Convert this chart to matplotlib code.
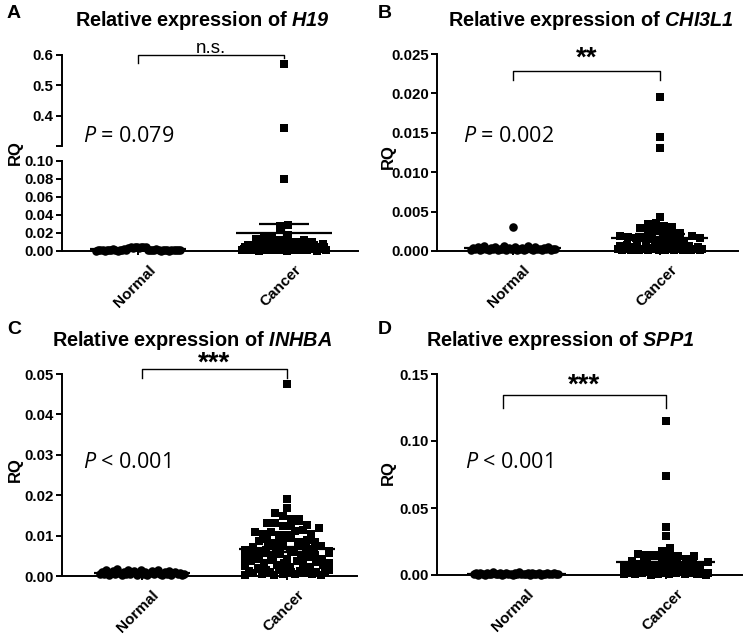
import numpy as np
import matplotlib
matplotlib.use("Agg")
import matplotlib.pyplot as plt  # noqa: E402
import matplotlib.transforms as mtransforms  # noqa: E402

plt.rcParams["font.family"] = ["Liberation Sans", "DejaVu Sans"]
plt.rcParams["mathtext.fontset"] = "custom"
plt.rcParams["mathtext.it"] = "Open Sans:italic"
plt.rcParams["mathtext.rm"] = "Open Sans"
plt.rcParams["mathtext.bf"] = "Liberation Sans:bold"
plt.rcParams["mathtext.bfit"] = "Liberation Sans:bold:italic"

# ---- data ----
groups = ["Normal", "Cancer"]
genes = ["H19", "CHI3L1", "INHBA", "SPP1"]
p_texts = ["$P$ = 0.079", "$P$ = 0.002", "$P$ < 0.001", "$P$ < 0.001"]
sig_marks = ["n.s.", "**", "***", "***"]

h19_normal = [0.0005, 0.001, 0.0008, 0.0012, 0.0003, 0.0015, 0.0007, 0.0009, 0.002, 0.0011,
              0.0004, 0.0013, 0.0006, 0.0018, 0.001, 0.0035, 0.004, 0.0038, 0.0042, 0.0045,
              0.0036, 0.0041, 0.0039, 0.005, 0.0008, 0.0014, 0.0006, 0.0009, 0.0017, 0.0012,
              0.0005, 0.0011, 0.0007, 0.0016, 0.0003, 0.001, 0.0013, 0.0008, 0.0006, 0.0009]
h19_cancer = [0.57, 0.36, 0.08,
              0.028, 0.029, 0.025, 0.018, 0.0135, 0.015, 0.014, 0.0125, 0.011, 0.0105, 0.012, 0.0095,
              0.0006, 0.0021, 0.0045, 0.0012, 0.0068, 0.0031, 0.0009, 0.0052, 0.0017, 0.0074,
              0.0028, 0.0004, 0.0039, 0.0061, 0.0015, 0.0083, 0.0024, 0.0011, 0.0047, 0.0035,
              0.0007, 0.0057, 0.0019, 0.0066, 0.0029, 0.0013, 0.0042, 0.0078, 0.0022, 0.0005,
              0.0049, 0.0033, 0.0016, 0.0062, 0.0026, 0.0008, 0.0054, 0.0037, 0.0014, 0.0071,
              0.0025, 0.0043, 0.0010, 0.0058, 0.0032, 0.0018, 0.0065, 0.0027, 0.0003, 0.0048,
              0.0036, 0.0020, 0.0081, 0.0040, 0.0012]

chi3l1_normal = [0.0001, 0.0004, 0.0002, 0.0005, 0.0001, 0.0003, 0.0006, 0.0002, 0.0001, 0.0004,
                 0.0002, 0.0005, 0.0001, 0.0003, 0.0002, 0.0006, 0.0001, 0.0004, 0.0002, 0.0003,
                 0.003, 0.0005, 0.0001, 0.0002, 0.0004, 0.0001, 0.0003, 0.0006, 0.0002, 0.0001,
                 0.0005, 0.0002, 0.0003, 0.0001, 0.0004, 0.0002, 0.0005, 0.0001, 0.0003, 0.0002]
chi3l1_cancer = [0.0195, 0.0145, 0.0131,
                 0.0029, 0.0025, 0.0043, 0.0034, 0.0036, 0.0027, 0.0032, 0.0031,
                 0.0022, 0.0021, 0.0023,
                 0.0019, 0.0018, 0.0017, 0.0016, 0.0015, 0.0014, 0.0013, 0.0012, 0.0011, 0.0019, 0.0016,
                 0.0002, 0.0006, 0.0001, 0.0004, 0.0008, 0.0003, 0.0001, 0.0005, 0.0002, 0.0007,
                 0.0001, 0.0003, 0.0002, 0.0006, 0.0001, 0.0004, 0.0002, 0.0009, 0.0003, 0.0001,
                 0.0005, 0.0002, 0.0001, 0.0004, 0.0003, 0.0007, 0.0001, 0.0002, 0.0005, 0.0003,
                 0.0001, 0.0004, 0.0002, 0.0006, 0.0001, 0.0003, 0.0002, 0.0005, 0.0001, 0.0002]

inhba_normal = [0.0004, 0.0009, 0.0006, 0.0015, 0.0003, 0.0008, 0.0012, 0.0005, 0.0017, 0.0007,
                0.0002, 0.0010, 0.0006, 0.0014, 0.0004, 0.0009, 0.0013, 0.0003, 0.0008, 0.0016,
                0.0005, 0.0011, 0.0002, 0.0007, 0.0012, 0.0004, 0.0009, 0.0015, 0.0006, 0.0003,
                0.0010, 0.0005, 0.0013, 0.0002, 0.0008, 0.0011, 0.0004, 0.0007, 0.0003, 0.0006]
inhba_cancer = [0.0475, 0.019, 0.0168, 0.0157, 0.0148, 0.014, 0.0142,
                0.013, 0.0131, 0.0123, 0.0124, 0.0135, 0.0127,
                0.0108, 0.0105, 0.011, 0.0102, 0.0101, 0.0112, 0.0115, 0.0104, 0.0118,
                0.0086, 0.0092, 0.0081, 0.0088, 0.0095, 0.0083, 0.0090, 0.0085,
                0.0065, 0.0072, 0.0061, 0.0078, 0.0068, 0.0075, 0.0063, 0.0079, 0.0070, 0.0066, 0.0074, 0.0062,
                0.0045, 0.0052, 0.0041, 0.0058, 0.0048, 0.0055, 0.0043, 0.0059, 0.0050, 0.0046, 0.0053,
                0.0042, 0.0057,
                0.0025, 0.0036, 0.0021, 0.0031, 0.0039, 0.0027, 0.0033, 0.0023, 0.0038, 0.0029, 0.0022,
                0.0035, 0.0026, 0.0032,
                0.0003, 0.0012, 0.0007, 0.0018, 0.0005, 0.0015, 0.0009, 0.0002, 0.0014, 0.0006, 0.0017,
                0.0010, 0.0004, 0.0013, 0.0008, 0.0016, 0.0005, 0.0011, 0.0003, 0.0008, 0.0015]

spp1_normal = [0.0005, 0.0012, 0.0003, 0.0018, 0.0008, 0.0002, 0.0015, 0.0006, 0.0010, 0.0020,
               0.0004, 0.0009, 0.0014, 0.0002, 0.0007, 0.0017, 0.0005, 0.0011, 0.0003, 0.0013,
               0.0008, 0.0019, 0.0004, 0.0010, 0.0006, 0.0016, 0.0002, 0.0012, 0.0007, 0.0009,
               0.0015, 0.0003, 0.0011, 0.0005, 0.0018, 0.0008, 0.0004, 0.0013, 0.0006, 0.0010]
spp1_cancer = [0.115, 0.074, 0.036, 0.029, 0.018, 0.020,
               0.016, 0.015, 0.015, 0.013, 0.015, 0.014, 0.012, 0.014,
               0.0065, 0.0105, 0.008, 0.0115, 0.007, 0.0095, 0.0085, 0.011, 0.0075, 0.009, 0.0062, 0.010,
               0.0008, 0.0032, 0.0015, 0.0048, 0.0022, 0.0005, 0.0041, 0.0027, 0.0012, 0.0055,
               0.0019, 0.0036, 0.0003, 0.0045, 0.0024, 0.0010, 0.0052, 0.0030, 0.0017, 0.0039,
               0.0006, 0.0043, 0.0026, 0.0013, 0.0058, 0.0021, 0.0034, 0.0009, 0.0047, 0.0028,
               0.0016, 0.0040, 0.0004, 0.0025, 0.0007, 0.0011, 0.0002, 0.0014]

W, H = 750, 637


def fx(x):
    return x / W


def fy(y):
    return 1 - y / H


def box(left, top, right, bottom):
    return [fx(left), fy(bottom), (right - left) / W, (bottom - top) / H]


def style(ax, xaxis=True):
    for s in ("top", "right"):
        ax.spines[s].set_visible(False)
    for s in ("left", "bottom"):
        ax.spines[s].set_linewidth(1.4)
    ax.tick_params(axis="y", direction="out", length=4, width=1.4,
                   labelsize=10.8, pad=2)
    if xaxis:
        ax.set_xticks([1, 2])
        ax.set_xticklabels(groups, rotation=45, ha="right",
                           rotation_mode="anchor", fontweight="bold",
                           fontsize=11)
        ax.tick_params(axis="x", direction="out", length=3, width=1.4, pad=2)
        shift = mtransforms.ScaledTranslation(0.10, -0.05, fig.dpi_scale_trans)
        for lbl in ax.get_xticklabels():
            lbl.set_transform(lbl.get_transform() + shift)
    else:
        ax.spines["bottom"].set_visible(False)
        ax.set_xticks([])
    for lbl in ax.get_yticklabels():
        lbl.set_fontweight("bold")


def swarm_x(ax, xpos, vals, marker_px=8.0, span_px=84.0):
    vals = np.asarray(vals, float)
    x0, x1 = ax.get_xlim()
    y0, y1 = ax.get_ylim()
    ppx = ax.bbox.width / (x1 - x0)
    ppy = ax.bbox.height / (y1 - y0)
    rows = np.floor((vals - y0) * ppy / marker_px).astype(int)
    xs = np.full(len(vals), float(xpos))
    for r in np.unique(rows):
        idx = np.flatnonzero(rows == r)
        k = len(idx)
        if k > 1:
            step = min(marker_px, span_px / (k - 1))
            xs[idx] = xpos + (np.arange(k) - (k - 1) / 2) * step / ppx
    return xs


def dots(ax, xpos, vals, marker):
    vals = np.asarray(vals, float)
    y0, y1 = ax.get_ylim()
    vals = vals[(vals >= y0) & (vals <= y1)]
    xs = swarm_x(ax, xpos, vals)
    s = 40 if marker == "s" else 38
    ax.scatter(xs, vals, marker=marker, s=s, color="black", linewidths=0,
               clip_on=False, zorder=3)


def mean_sem(ax, xpos, vals):
    v = np.asarray(vals, float)
    m = v.mean()
    sem = v.std(ddof=1) / np.sqrt(len(v))
    kw = dict(color="black", lw=1.6, zorder=4, clip_on=False)
    ax.hlines(m, xpos - 0.33, xpos + 0.33, **kw)
    ax.vlines(xpos, m - sem, m + sem, **kw)
    ax.hlines([m - sem, m + sem], xpos - 0.17, xpos + 0.17, **kw)


def bracket(ax, x0, x1, ytop, yl, yr, mark, ymark, size, weight):
    ax.plot([x0, x0, x1, x1], [yl, ytop, ytop, yr], color="black", lw=1.0,
            clip_on=False)
    ax.text((x0 + x1) / 2, ymark, mark, ha="center", va="center",
            fontsize=size, fontweight=weight)


fig = plt.figure(figsize=(W / 100, H / 100), dpi=100)

# ---- A: H19, broken y axis ----
ax_up = fig.add_axes(box(62, 55, 358, 146))
ax_lo = fig.add_axes(box(62, 161, 358, 251))
for ax in (ax_up, ax_lo):
    ax.set_xlim(0.479, 2.507)
ax_up.set_ylim(0.3, 0.6)
ax_up.set_yticks([0.3, 0.4, 0.5, 0.6])
ax_up.set_yticklabels(["", "0.4", "0.5", "0.6"])
ax_lo.set_ylim(0, 0.1)
ax_lo.set_yticks(np.arange(0, 0.101, 0.02))
ax_lo.set_yticklabels([f"{t:.2f}" for t in np.arange(0, 0.101, 0.02)])
style(ax_up, xaxis=False)
style(ax_lo)
for ax in (ax_up, ax_lo):
    dots(ax, 1, h19_normal, "o")
    dots(ax, 2, h19_cancer, "s")
mean_sem(ax_lo, 1, h19_normal)
mean_sem(ax_lo, 2, h19_cancer)
bracket(ax_up, 1, 2, 0.6, 0.575, 0.59, sig_marks[0], 0.622, 13.5, "normal")

# ---- B: CHI3L1 ----
ax_b = fig.add_axes(box(437, 54, 738, 251))
ax_b.set_xlim(0.483, 2.531)
ax_b.set_ylim(0, 0.025)
ax_b.set_yticks(np.arange(0, 0.0251, 0.005))
ax_b.set_yticklabels([f"{t:.3f}" for t in np.arange(0, 0.0251, 0.005)])
style(ax_b)
dots(ax_b, 1, chi3l1_normal, "o")
dots(ax_b, 2, chi3l1_cancer, "s")
mean_sem(ax_b, 1, chi3l1_normal)
mean_sem(ax_b, 2, chi3l1_cancer)
bracket(ax_b, 1, 2, 0.0228, 0.0217, 0.0217, sig_marks[1], 0.0244, 20, "bold")

# ---- C: INHBA ----
ax_c = fig.add_axes(box(62, 374, 357, 576))
ax_c.set_xlim(0.448, 2.483)
ax_c.set_ylim(0, 0.05)
ax_c.set_yticks(np.arange(0, 0.051, 0.01))
ax_c.set_yticklabels([f"{t:.2f}" for t in np.arange(0, 0.051, 0.01)])
style(ax_c)
dots(ax_c, 1, inhba_normal, "o")
dots(ax_c, 2, inhba_cancer, "s")
mean_sem(ax_c, 1, inhba_normal)
mean_sem(ax_c, 2, inhba_cancer)
bracket(ax_c, 1, 2, 0.0512, 0.049, 0.049, sig_marks[2], 0.0525, 20, "bold")

# ---- D: SPP1 ----
ax_d = fig.add_axes(box(437, 374, 742, 575))
ax_d.set_xlim(0.473, 2.507)
ax_d.set_ylim(0, 0.15)
ax_d.set_yticks(np.arange(0, 0.151, 0.05))
ax_d.set_yticklabels([f"{t:.2f}" for t in np.arange(0, 0.151, 0.05)])
style(ax_d)
dots(ax_d, 1, spp1_normal, "o")
dots(ax_d, 2, spp1_cancer, "s")
mean_sem(ax_d, 1, spp1_normal)
mean_sem(ax_d, 2, spp1_cancer)
bracket(ax_d, 0.913, 2, 0.134, 0.125, 0.125, sig_marks[3], 0.141, 20, "bold")

# ---- figure text ----
titles_xy = [(202, 20), (591, 20), (192, 340), (560, 340)]
for gene, (x, y) in zip(genes, titles_xy):
    fig.text(fx(x), fy(y), "Relative expression of $\\mathbfit{" + gene + "}$",
             ha="center", va="center", fontsize=14.3, fontweight="bold")

letters_xy = [("A", 7, 13), ("B", 378, 13), ("C", 7, 330), ("D", 378, 330)]
for lab, x, y in letters_xy:
    fig.text(fx(x), fy(y), lab, ha="left", va="center", fontsize=14,
             fontweight="bold")

p_xy = [(83, 137), (463, 137), (83, 462), (465, 462)]
for txt, (x, y) in zip(p_texts, p_xy):
    fig.text(fx(x), fy(y), txt, ha="left", va="center", fontsize=15.5,
             family="Open Sans")

rq_xy = [(15, 153), (388, 157), (15, 470), (388, 473)]
for x, y in rq_xy:
    fig.text(fx(x), fy(y), "RQ", rotation=90, ha="center", va="center",
             fontsize=12, fontweight="bold")

fig.savefig("out.png", dpi=100)
